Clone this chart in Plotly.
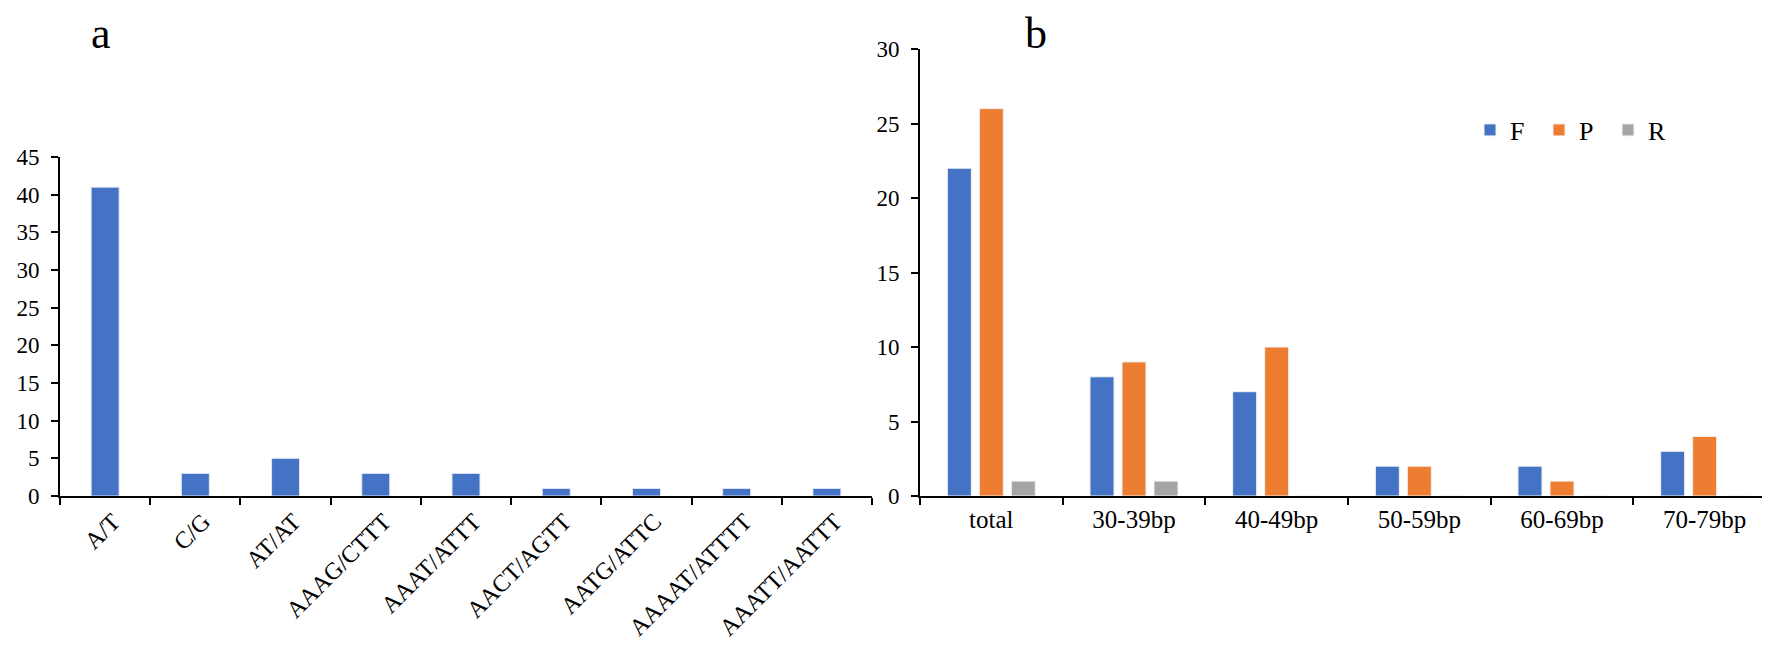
import plotly.graph_objects as go

# ---- data ----
motif_labels = ["A/T", "C/G", "AT/AT", "AAAG/CTTT", "AAAT/ATTT", "AACT/AGTT",
                "AATG/ATTC", "AAAAT/ATTTT", "AAATT/AATTT"]
motif_counts = [41, 3, 5, 3, 3, 1, 1, 1, 1]

length_labels = ["total", "30-39bp", "40-49bp", "50-59bp", "60-69bp", "70-79bp"]
F_counts = [22, 8, 7, 2, 2, 3]
P_counts = [26, 9, 10, 2, 1, 4]
R_counts = [1, 1, 0, 0, 0, 0]

BLUE = "#4472C4"
ORANGE = "#ED7D31"
GRAY = "#A5A5A5"
FONT = "Liberation Serif"

W, H = 1770, 647

fig = go.Figure()

fig.add_trace(go.Bar(x=motif_labels, y=motif_counts, xaxis="x", yaxis="y",
                     marker=dict(color=BLUE, line=dict(color="#dfe6f5", width=1)),
                     width=0.31, showlegend=False))

for name, vals, col in [("F", F_counts, BLUE), ("P", P_counts, ORANGE), ("R", R_counts, GRAY)]:
    fig.add_trace(go.Bar(x=length_labels, y=vals, name=name, xaxis="x2", yaxis="y2",
                         marker=dict(color=col, line=dict(color="#f2f2f2", width=1))))

axis_common = dict(showline=True, linecolor="black", linewidth=2, ticks="outside",
                   tickcolor="black", tickwidth=2, ticklen=7, showgrid=False,
                   zeroline=False, automargin=False)


def tf(size):
    return dict(family=FONT, size=size, color="black")


fig.update_layout(
    width=W, height=H, autosize=False,
    margin=dict(l=0, r=0, t=0, b=0),
    paper_bgcolor="white", plot_bgcolor="white",
    barmode="group", bargap=0.327, bargroupgap=0.25,
    font=dict(family=FONT, color="black"),
    xaxis=dict(domain=[52 / W, 864 / W], anchor="y", type="category",
               tickson="boundaries", tickangle=-45, tickfont=tf(24),
               ticklabelshift=8, **axis_common),
    yaxis=dict(domain=[1 - 488 / H, 1 - 149 / H], anchor="x", range=[0, 45],
               dtick=5, ticklabelstandoff=7, tickfont=tf(23), **axis_common),
    xaxis2=dict(domain=[912 / W, 1768 / W], anchor="y2", type="category",
                tickson="boundaries", tickfont=tf(25), **axis_common),
    yaxis2=dict(domain=[1 - 488 / H, 1 - 41 / H], anchor="x2", range=[0, 30],
                dtick=5, ticklabelstandoff=7, tickfont=tf(23), **axis_common),
    legend=dict(orientation="h", x=1462 / W, y=1 - 122 / H, xanchor="left",
                yanchor="middle", font=tf(26),
                entrywidth=24, entrywidthmode="pixels", itemwidth=30,
                bgcolor="rgba(0,0,0,0)"),
    annotations=[
        dict(text="a", x=93 / W, y=1.0, xref="paper", yref="paper",
             showarrow=False, xanchor="center", yanchor="top", borderpad=0,
             font=tf(44)),
        dict(text="b", x=1028 / W, y=1.0, xref="paper", yref="paper",
             showarrow=False, xanchor="center", yanchor="top", borderpad=0,
             font=tf(44)),
    ],
)

fig.write_html("out.html")
